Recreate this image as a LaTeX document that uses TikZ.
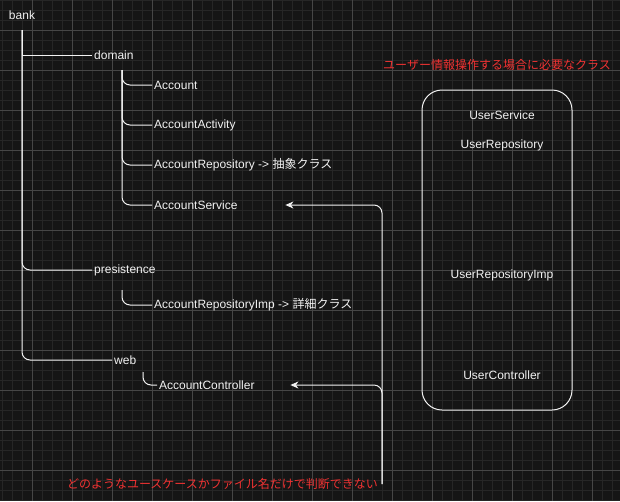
\documentclass[tikz,border=0pt]{standalone}
\usepackage{fontspec}
\setmainfont{Liberation Sans}
\newfontfamily\jp{Noto Sans CJK JP}
\usepackage{tikz}
\usetikzlibrary{arrows.meta, positioning, calc}

\definecolor{canvas}{RGB}{21,21,21}
\definecolor{minorgrid}{RGB}{38,38,38}
\definecolor{majorgrid}{RGB}{70,70,70}
\definecolor{ink}{RGB}{242,242,242}
\definecolor{memo}{RGB}{240,50,50}

\begin{document}
\begin{tikzpicture}[x=1pt, y=-1pt, font=\fontsize{12pt}{14pt}\selectfont, text=ink]
        \tikzstyle{folder} = [anchor=west, inner sep=2pt, minimum height=30pt]
        \tikzstyle{leaf} = [anchor=west, inner sep=2pt]
        \tikzstyle{target} = [leaf, text width=129pt, align=left]
        \tikzstyle{note} = [text=memo, inner sep=4pt]
        \tikzstyle{line} = [draw=ink, line width=1pt]
        \tikzstyle{branch} = [line, rounded corners=8pt]
        \tikzstyle{arrow} = [branch, -{Stealth[length=8pt, width=7pt, inset=2.5pt]}]

        \fill [canvas] (0,0) rectangle (620,501);
        \useasboundingbox (0,0) rectangle (620,501);
        \foreach \x in {2,12,...,612} \draw [minorgrid, line width=0.8pt] (\x,0) -- (\x,501);
        \foreach \y in {0,10,...,500} \draw [minorgrid, line width=0.8pt] (0,\y) -- (620,\y);
        \foreach \x in {32,72,...,592} \draw [majorgrid, line width=0.8pt] (\x,0) -- (\x,501);
        \foreach \y in {30,70,...,470} \draw [majorgrid, line width=0.8pt] (0,\y) -- (620,\y);

        \node [minimum height=30pt, inner sep=0pt] (bank) at (22,15) {bank};
        \node [folder] (domain) at (92,55) {domain};
        \node [folder, minimum height=40pt] (presis) at (92,270) {presistence};
        \node [folder, minimum height=24pt] (web) at (112,360) {web};

        \node [leaf] (acc) at (152,85) {Account};
        \node [leaf] (activity) at (152,125) {AccountActivity};
        \node [leaf] (repo) at (152,165) {AccountRepository -> {\jp 抽象クラス}};
        \node [target] (service) at (152,205) {AccountService};
        \node [leaf] (repoimp) at (152,305) {AccountRepositoryImp -> {\jp 詳細クラス}};
        \node [target] (ctrl) at (157,385) {AccountController};

        \node [note, anchor=east] (usecase) at (382,484) {\jp どのようなユースケースかファイル名だけで判断できない};
        \node [note] (needed) at (497,65) {\jp ユーザー情報操作する場合に必要なクラス};

        \node [draw=ink, line width=1pt, rounded corners=20pt, minimum width=150pt, minimum height=320pt] (userbox) at (497,250) {};
        \node (usvc) at (502,115) {UserService};
        \node (urepo) at (502,145) {UserRepository};
        \node (urepoimp) at (502,275) {UserRepositoryImp};
        \node (uctrl) at (502,375) {UserController};

        \path [line] (bank.south) |- (domain.west);
        \path [branch] (bank.south) |- (presis.west);
        \path [branch] (bank.south) |- (web.west);

        \path [branch] ([xshift=30pt]domain.south west) |- (acc.west);
        \path [branch] ([xshift=30pt]domain.south west) |- (activity.west);
        \path [branch] ([xshift=30pt]domain.south west) |- (repo.west);
        \path [branch] ([xshift=30pt]domain.south west) |- (service.west);
        \path [branch] ([xshift=30pt]presis.south west) |- (repoimp.west);
        \path [branch] ([xshift=31pt]web.south west) |- (ctrl.west);

        \path [arrow] (usecase.east) |- (service.east);
        \path [arrow] (usecase.east) |- (ctrl.east);
    \end{tikzpicture}
\end{document}
